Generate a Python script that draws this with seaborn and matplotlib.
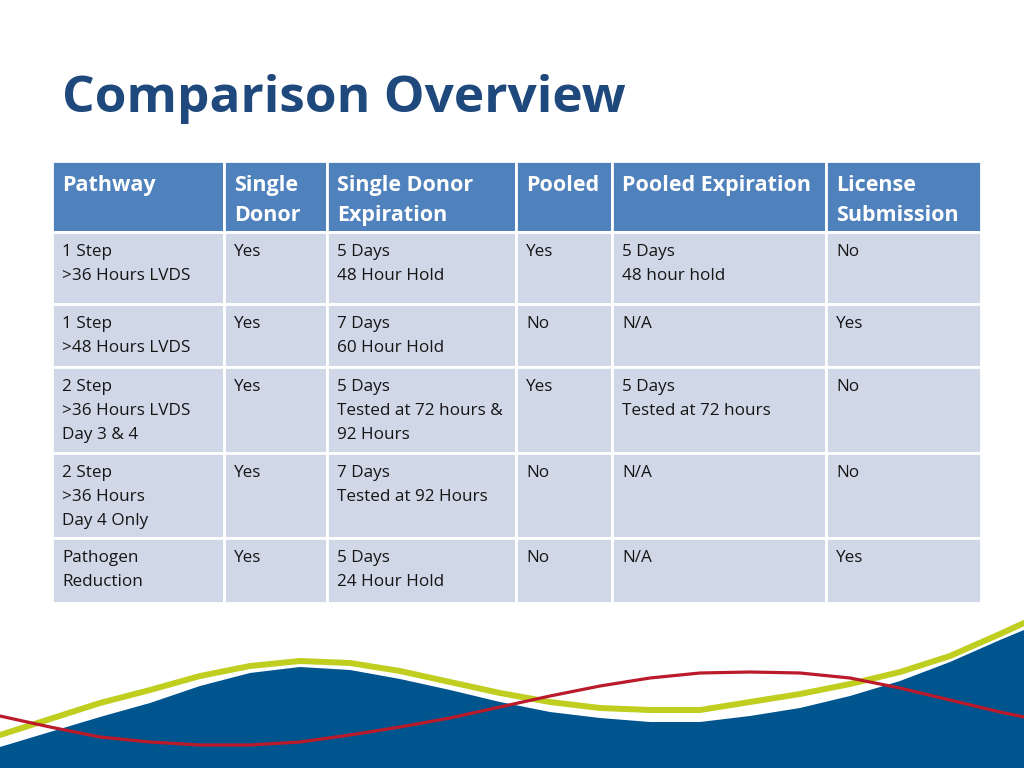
import matplotlib
matplotlib.use('Agg')
import matplotlib.pyplot as plt
import seaborn as sns
from matplotlib.patches import Rectangle

sns.set_theme(style='white')
plt.rcParams['font.family'] = ['Open Sans', 'DejaVu Sans']

# --- table content ---
headers = ['Pathway', 'Single\nDonor', 'Single Donor\nExpiration', 'Pooled',
           'Pooled Expiration', 'License\nSubmission']
pathway = ['1 Step\n>36 Hours LVDS', '1 Step\n>48 Hours LVDS',
           '2 Step\n>36 Hours LVDS\nDay 3 & 4', '2 Step\n>36 Hours\nDay 4 Only',
           'Pathogen\nReduction']
single_donor = ['Yes', 'Yes', 'Yes', 'Yes', 'Yes']
single_exp = ['5 Days\n48 Hour Hold', '7 Days\n60 Hour Hold',
              '5 Days\nTested at 72 hours &\n92 Hours', '7 Days\nTested at 92 Hours',
              '5 Days\n24 Hour Hold']
pooled = ['Yes', 'No', 'Yes', 'No', 'No']
pooled_exp = ['5 Days\n48 hour hold', 'N/A', '5 Days\nTested at 72 hours', 'N/A', 'N/A']
license_sub = ['No', 'Yes', 'No', 'No', 'Yes']

columns = [pathway, single_donor, single_exp, pooled, pooled_exp, license_sub]

# --- bottom decoration (pixel coords) ---
wave_x = [0, 50, 100, 150, 200, 250, 300, 350, 400, 450, 500, 550,
          600, 650, 700, 750, 800, 850, 900, 950, 1000, 1024]
blue_top = [747, 732, 717, 703, 686, 673, 667, 670, 679, 690, 702, 712,
            718, 722, 722, 716, 708, 696, 681, 662, 640, 630]
green_y = [735, 719, 703, 690, 676, 666, 661, 663, 671, 682, 693, 702,
           708, 710, 710, 702, 694, 684, 672, 656, 634, 623]
red_y = [716, 727, 737, 742, 745, 745, 742, 735, 727, 718, 707, 696,
         686, 678, 673, 672, 673, 678, 688, 700, 712, 717]

# layout in pixel units
col_edges = [52, 224, 327, 516, 612, 826, 981]
row_edges = [161, 232, 304, 367, 453, 538, 603]

HEADER_BLUE = '#4F81BD'
CELL_BLUE = '#D0D8E8'
TITLE_BLUE = '#1F497D'

fig = plt.figure(figsize=(10.24, 7.68), dpi=100)
ax = fig.add_axes([0, 0, 1, 1])

ax.text(62, 99, 'Comparison Overview', fontsize=37, fontweight='bold',
        color=TITLE_BLUE, va='center', ha='left')

for r in range(len(row_edges) - 1):
    y0, y1 = row_edges[r], row_edges[r + 1]
    for c in range(len(col_edges) - 1):
        x0, x1 = col_edges[c], col_edges[c + 1]
        face = HEADER_BLUE if r == 0 else CELL_BLUE
        ax.add_patch(Rectangle((x0, y0), x1 - x0, y1 - y0, facecolor=face,
                               edgecolor='white', linewidth=2))
        if r == 0:
            ax.text(x0 + 10, y0 + 14, headers[c], fontsize=15.5, fontweight='bold',
                    color='white', va='top', ha='left', linespacing=1.56)
        else:
            ax.text(x0 + 10, y0 + 12, columns[c][r - 1], fontsize=12.3,
                    color='#151515', va='top', ha='left', linespacing=1.66)

# waves
ax.fill_between(wave_x, blue_top, 768, color='#01558F', linewidth=0)
sns.lineplot(x=wave_x, y=green_y, ax=ax, color='#BFCE1F', linewidth=4.3,
             sort=False)
sns.lineplot(x=wave_x, y=red_y, ax=ax, color='#BB1A2B', linewidth=2.3,
             sort=False)
ax.set_xlim(0, 1024)
ax.set_ylim(768, 0)
ax.axis('off')

fig.savefig('out.png', dpi=100)
